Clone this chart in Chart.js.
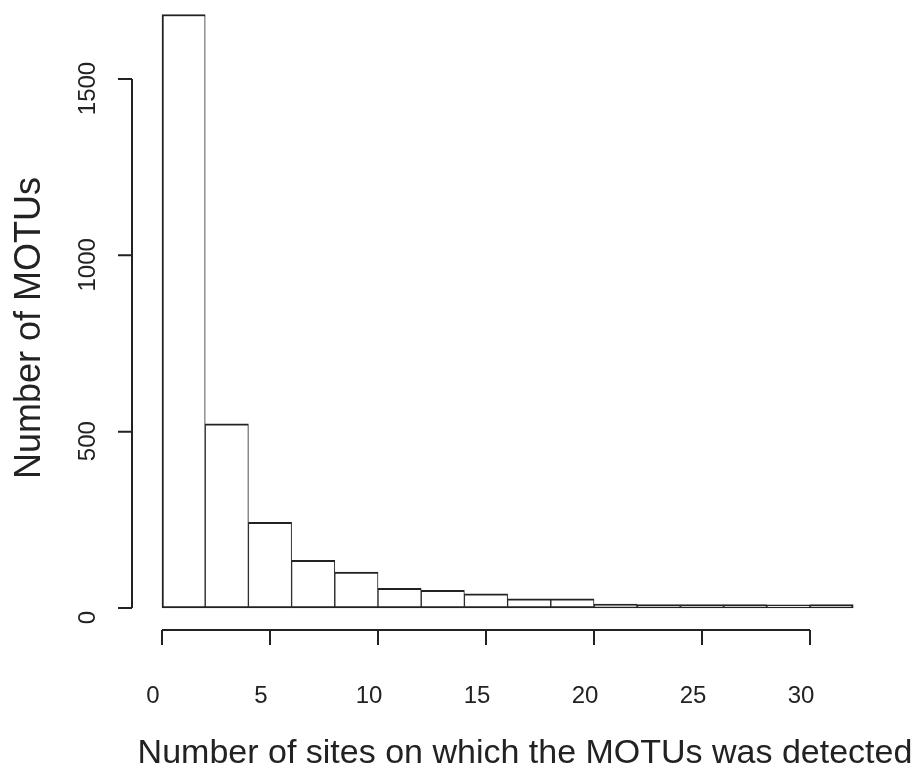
<!DOCTYPE html>
<html>
<head>
<meta charset="utf-8">
<title>Number of MOTUs</title>
<script src="https://cdn.jsdelivr.net/npm/chart.js@4/dist/chart.umd.min.js"></script>
<style>
  html, body { margin: 0; padding: 0; background: #fff; }
  #box { position: relative; width: 922px; height: 769px; }
</style>
</head>
<body>
<div id="box"><canvas id="hist"></canvas></div>
<script>
// Dados do histograma (classes de largura 2)
const binEdges = [0, 2, 4, 6, 8, 10, 12, 14, 16, 18, 20, 22, 24, 26, 28, 30, 32];
const counts = [1683, 522, 243, 135, 102, 56, 50, 40, 26, 26, 11, 10, 10, 10, 9, 10];
const xTicks = [0, 5, 10, 15, 20, 25, 30];
const yTicks = [0, 500, 1000, 1500];
const xTitle = "Number of sites on which the MOTUs was detected";
const yTitle = "Number of MOTUs";

// Centro de cada classe
const points = counts.map(function(c, i){
  return { x: (binEdges[i] + binEdges[i + 1]) / 2, y: c };
});

const ink = "#222";
const last = counts.length - 1;

// Eixos no estilo do R (desenhados com as escalas do grafico)
const rAxes = {
  id: "rAxes",
  afterDraw(chart){
    const ctx = chart.ctx;
    const xs = chart.scales.x;
    const ys = chart.scales.y;
    ctx.save();
    ctx.strokeStyle = ink;
    ctx.fillStyle = ink;
    ctx.lineWidth = 2;

    // eixo x
    const xa = xs.getPixelForValue(xTicks[0]);
    const xb = xs.getPixelForValue(xTicks[xTicks.length - 1]);
    const axY = 630;
    ctx.beginPath();
    ctx.moveTo(xa, axY);
    ctx.lineTo(xb, axY);
    xTicks.forEach(function(t){
      const px = xs.getPixelForValue(t);
      ctx.moveTo(px, axY);
      ctx.lineTo(px, axY + 15);
    });
    ctx.stroke();

    ctx.font = "24px 'Liberation Sans', Arial, sans-serif";
    ctx.textAlign = "center";
    ctx.textBaseline = "alphabetic";
    xTicks.forEach(function(t){
      ctx.fillText(String(t), xs.getPixelForValue(t) - 9, 703);
    });

    // eixo y
    const axX = 132;
    const ya = ys.getPixelForValue(yTicks[0]);
    const yb = ys.getPixelForValue(yTicks[yTicks.length - 1]);
    ctx.beginPath();
    ctx.moveTo(axX, ya);
    ctx.lineTo(axX, yb);
    yTicks.forEach(function(t){
      const py = ys.getPixelForValue(t);
      ctx.moveTo(axX, py);
      ctx.lineTo(axX - 14, py);
    });
    ctx.stroke();

    yTicks.forEach(function(t){
      ctx.save();
      ctx.translate(95, ys.getPixelForValue(t) + 9.5);
      ctx.rotate(-Math.PI / 2);
      ctx.fillText(String(t), 0, 0);
      ctx.restore();
    });

    // titulos
    ctx.font = "34px 'Liberation Sans', Arial, sans-serif";
    ctx.fillText(xTitle, 525, 763);

    ctx.save();
    ctx.font = "36px 'Liberation Sans', Arial, sans-serif";
    ctx.translate(40, 328);
    ctx.rotate(-Math.PI / 2);
    ctx.fillText(yTitle, 0, 0);
    ctx.restore();

    ctx.restore();
  }
};

const MyChart = new Chart("hist", {
  type: "bar",
  data: {
    datasets: [{
      data: points,
      backgroundColor: "#fff",
      borderColor: ink,
      borderSkipped: false,
      borderWidth: function(c){
        return {
          top: 2,
          bottom: 2,
          left: c.dataIndex === 0 ? 2 : 1,
          right: c.dataIndex === last ? 2 : 1
        };
      },
      barPercentage: 1,
      categoryPercentage: 1
    }]
  },
  options: {
    responsive: true,
    maintainAspectRatio: false,
    animation: false,
    layout: { padding: { left: 134, right: 42, top: 0, bottom: 137 } },
    plugins: {
      legend: { display: false },
      tooltip: { enabled: false }
    },
    scales: {
      x: {
        type: "linear",
        display: false,
        offset: false,
        min: -1.296,
        max: 33.24
      },
      y: {
        display: false,
        min: -68,
        max: 1724
      }
    }
  },
  plugins: [rAxes]
});
</script>
</body>
</html>
